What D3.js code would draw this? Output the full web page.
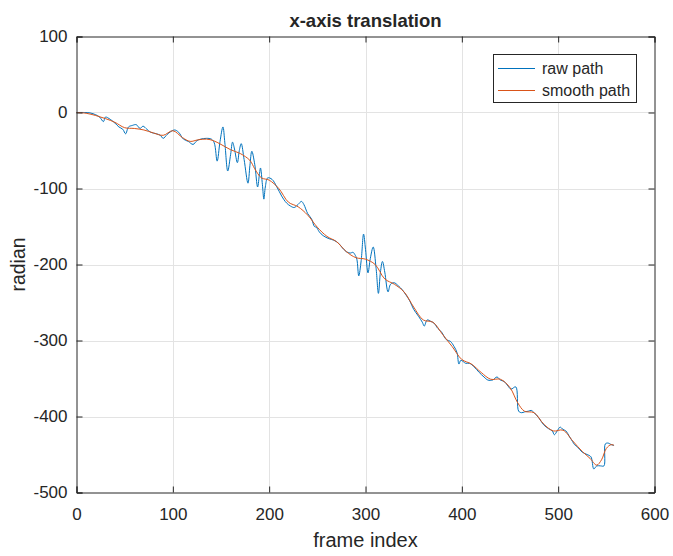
<!DOCTYPE html>
<html lang="en">
<head>
<meta charset="UTF-8">
<title>x-axis translation</title>
<script src="https://d3js.org/d3.v7.min.js"></script>
<style>
  body { margin: 0; background: #fff; }
  text { font-family: "Liberation Sans", Arial, sans-serif; fill: #262626; }
</style>
</head>
<body>
<script>
    // raw path samples (frame index, radian)
    const rawFrame = [0, 8, 14, 20, 24, 28, 30, 35, 40, 44, 48, 51, 54, 58, 62, 66, 69, 73, 77, 83, 87, 90, 94, 98,
        102, 106, 111, 116, 121, 125, 129, 135, 140, 143, 146, 149, 152, 154, 157, 160, 162, 164, 167, 169, 171, 174,
        178, 180, 182, 185, 188, 190, 191, 193, 194.5, 196, 198.5, 203, 208, 213, 218, 222, 226, 230, 233.5, 236, 240,
        244, 247, 249, 252, 256, 262, 267, 272, 276, 280, 284, 287, 289, 291, 293, 295.5, 298, 300, 302.6, 305, 308,
        311, 313.4, 315.5, 317.6, 320, 323.4, 326, 329.7, 334, 338, 342, 346, 350, 355, 359, 361, 364, 368, 371, 375,
        379, 384, 388, 392, 395, 397, 399, 404, 408, 413, 418, 423, 427, 432, 436.5, 440, 444, 448, 451, 456, 459, 462,
        465, 469, 472, 475, 480, 485, 490, 494, 496, 499, 502, 505, 508, 512, 515, 517, 520, 525, 530, 534, 537, 540,
        544, 547.5, 549, 552, 555, 558];
    const rawValue = [0, 0, -0.5, -3, -6, -12, -6, -9, -14, -19, -22, -28, -19, -17, -16, -21, -18, -22, -26, -28, -30, -34, -29, -25,
        -23, -26, -35, -38, -42, -37, -35, -34, -35, -40, -64, -38, -19, -40, -77, -55, -39, -48, -66, -50, -41, -62,
        -93, -70, -51, -68, -98, -80, -73, -95, -114, -98, -86, -88, -98, -110, -119, -123, -125, -121, -117, -121, -133,
        -140, -150, -151, -157, -162, -166, -168, -172, -178, -183, -185, -184, -187, -193, -215, -195, -160, -180, -211, -192, -177,
        -205, -238, -210, -196, -210, -236, -226, -224, -228, -233, -240, -248, -259, -268, -276, -281, -273, -275, -277, -284,
        -289, -299, -301, -308, -316, -331, -326, -330, -330, -335, -342, -348, -352, -352, -348, -352, -354, -360, -364, -361, -393, -395,
        -394, -393, -392, -395, -402, -411, -416, -419, -424, -419, -414, -417, -419, -427, -433, -437, -440, -447, -450, -453, -469, -465,
        -465, -465, -436, -435, -437, -438];

    // smooth path samples
    const smoothFrame = [0, 10, 20, 30, 40, 50, 60, 70, 80, 90, 100, 110, 118, 126, 135, 142, 150, 160, 170, 180, 185, 192,
        200, 210, 220, 230, 240, 250, 260, 270, 280, 290, 300, 310, 320, 330, 340, 350, 360, 370, 380, 390, 400, 410,
        420, 430, 440, 450, 458, 465, 475, 485, 495, 505, 515, 525, 533, 540, 545, 550, 555, 558];
    const smoothValue = [0, -1, -4, -8, -13, -20, -21, -23, -27, -30, -24, -33, -38, -36, -35, -37, -42, -49, -54, -63, -74, -86,
        -89, -100, -118, -124, -135, -151, -163, -170, -183, -191, -193, -200, -219, -226, -236, -256, -273, -276, -292, -308, -325, -331,
        -342, -351, -351, -362, -382, -393, -395, -410, -419, -418, -432, -446, -455, -464, -457, -442, -437, -438];

    const xTicks = [0, 100, 200, 300, 400, 500, 600];
    const yTicks = [100, 0, -100, -200, -300, -400, -500];
    const seriesNames = ["raw path", "smooth path"];
    const seriesColors = ["#0072BD", "#D95319"];

    const width = 673, height = 556;
    const plotLeft = 76.5, plotRight = 654.5, plotTop = 36.5, plotBottom = 492.5;

    const svg = d3.select("body").append("svg")
        .attr("width", width)
        .attr("height", height);

    const x = d3.scaleLinear().domain([0, 600]).range([plotLeft, plotRight]);
    const y = d3.scaleLinear().domain([-500, 100]).range([plotBottom, plotTop]);

    // grid
    svg.append("g").selectAll("line").data(xTicks.slice(1, -1)).join("line")
        .attr("x1", d => Math.round(x(d)) + 0.5).attr("x2", d => Math.round(x(d)) + 0.5)
        .attr("y1", plotTop).attr("y2", plotBottom)
        .attr("stroke", "#e3e3e3").attr("stroke-width", 1);
    svg.append("g").selectAll("line").data(yTicks.slice(1, -1)).join("line")
        .attr("y1", d => Math.round(y(d)) + 0.5).attr("y2", d => Math.round(y(d)) + 0.5)
        .attr("x1", plotLeft).attr("x2", plotRight)
        .attr("stroke", "#e3e3e3").attr("stroke-width", 1);

    // data lines
    const line = d3.line()
        .x(d => x(d[0]))
        .y(d => y(d[1]))
        .curve(d3.curveCatmullRom.alpha(0.5));

    const rawData = rawFrame.map((f, i) => [f, rawValue[i]]);
    const smoothData = smoothFrame.map((f, i) => [f, smoothValue[i]]);

    svg.append("path").datum(rawData)
        .attr("fill", "none").attr("stroke", seriesColors[0]).attr("stroke-width", 1)
        .attr("d", line);
    svg.append("path").datum(smoothData)
        .attr("fill", "none").attr("stroke", seriesColors[1]).attr("stroke-width", 1)
        .attr("d", line);

    // axes (ticks inward, mirrored on top/right)
    const tl = 6;
    const axisColor = "#262626";
    const plain = d => String(d);
    const gx = svg.append("g").attr("transform", `translate(0,${plotBottom})`)
        .call(d3.axisBottom(x).tickValues(xTicks).tickSize(-tl).tickPadding(15).tickFormat(plain));
    const gxTop = svg.append("g").attr("transform", `translate(0,${plotTop})`)
        .call(d3.axisTop(x).tickValues(xTicks).tickSize(-tl).tickFormat(""));
    const gy = svg.append("g").attr("transform", `translate(${plotLeft},0)`)
        .call(d3.axisLeft(y).tickValues(yTicks).tickSize(-tl).tickPadding(9).tickFormat(plain));
    const gyRight = svg.append("g").attr("transform", `translate(${plotRight},0)`)
        .call(d3.axisRight(y).tickValues(yTicks).tickSize(-tl).tickFormat(""));

    [gx, gxTop, gy, gyRight].forEach(g => {
        g.select(".domain").attr("stroke", axisColor);
        g.selectAll(".tick line").attr("stroke", axisColor);
        g.selectAll("text").attr("font-size", 17).attr("fill", axisColor)
            .attr("font-family", "Liberation Sans, Arial, sans-serif");
    });

    // title and labels
    svg.append("text").attr("x", (plotLeft + plotRight) / 2).attr("y", 26.5)
        .attr("text-anchor", "middle").attr("font-size", 18.5).attr("font-weight", "bold")
        .text("x-axis translation");
    svg.append("text").attr("x", (plotLeft + plotRight) / 2).attr("y", 547)
        .attr("text-anchor", "middle").attr("font-size", 20)
        .text("frame index");
    svg.append("text").attr("transform", `translate(25,${(plotTop + plotBottom) / 2}) rotate(-90)`)
        .attr("text-anchor", "middle").attr("font-size", 19.5)
        .text("radian");

    // legend
    const lg = svg.append("g");
    lg.append("rect").attr("x", 493.5).attr("y", 54.5).attr("width", 143).attr("height", 48)
        .attr("fill", "#fff").attr("stroke", axisColor).attr("stroke-width", 1);
    seriesNames.forEach((name, i) => {
        const ly = 68.5 + i * 22;
        lg.append("line").attr("x1", 498).attr("x2", 535).attr("y1", ly).attr("y2", ly)
            .attr("stroke", seriesColors[i]).attr("stroke-width", 1);
        lg.append("text").attr("x", 542).attr("y", ly).attr("dy", "0.35em")
            .attr("font-size", 16).text(name);
    });
</script>
</body>
</html>
